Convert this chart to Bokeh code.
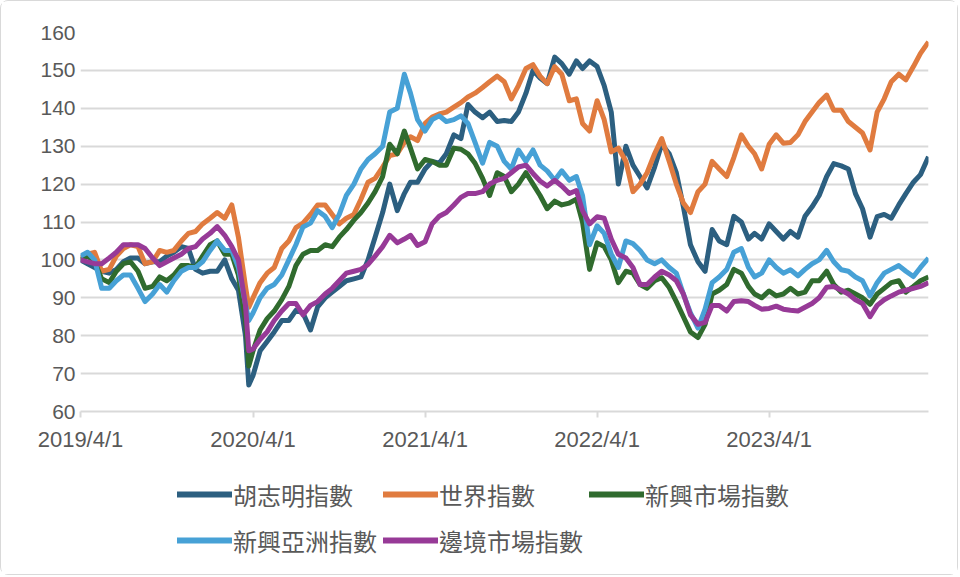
from bokeh.plotting import figure
from bokeh.layouts import column
from bokeh.models import Legend, LegendItem, FixedTicker, Range1d
from bokeh.embed import file_html
from bokeh.resources import INLINE
import pandas as pd

dates = [
    "2019-04-01", "2019-04-16", "2019-05-01", "2019-05-16", "2019-06-01", "2019-06-16",
    "2019-07-01", "2019-07-16", "2019-08-01", "2019-08-16", "2019-09-01", "2019-09-16",
    "2019-10-01", "2019-10-16", "2019-11-01", "2019-11-16", "2019-12-01", "2019-12-16",
    "2020-01-01", "2020-01-16", "2020-02-01", "2020-02-16", "2020-03-01", "2020-03-16",
    "2020-03-23", "2020-04-01", "2020-04-16", "2020-05-01", "2020-05-16", "2020-06-01",
    "2020-06-16", "2020-07-01", "2020-07-16", "2020-08-01", "2020-08-16", "2020-09-01",
    "2020-09-16", "2020-10-01", "2020-10-16", "2020-11-01", "2020-11-16", "2020-12-01",
    "2020-12-16", "2021-01-01", "2021-01-16", "2021-02-01", "2021-02-16", "2021-03-01",
    "2021-03-16", "2021-04-01", "2021-04-16", "2021-05-01", "2021-05-16", "2021-06-01",
    "2021-06-16", "2021-07-01", "2021-07-16", "2021-08-01", "2021-08-16", "2021-09-01",
    "2021-09-16", "2021-10-01", "2021-10-16", "2021-11-01", "2021-11-16", "2021-12-01",
    "2021-12-16", "2022-01-01", "2022-01-16", "2022-02-01", "2022-02-16", "2022-03-01",
    "2022-03-16", "2022-04-01", "2022-04-16", "2022-05-01", "2022-05-16", "2022-06-01",
    "2022-06-16", "2022-07-01", "2022-07-16", "2022-08-01", "2022-08-16", "2022-09-01",
    "2022-09-16", "2022-10-01", "2022-10-16", "2022-11-01", "2022-11-16", "2022-12-01",
    "2022-12-16", "2023-01-01", "2023-01-16", "2023-02-01", "2023-02-16", "2023-03-01",
    "2023-03-16", "2023-04-01", "2023-04-16", "2023-05-01", "2023-05-16", "2023-06-01",
    "2023-06-16", "2023-07-01", "2023-07-16", "2023-08-01", "2023-08-16", "2023-09-01",
    "2023-09-16", "2023-10-01", "2023-10-16", "2023-11-01", "2023-11-16", "2023-12-01",
    "2023-12-16", "2024-01-01", "2024-01-16", "2024-02-01", "2024-02-16", "2024-03-04",
]

hcmc = [
    100, 99, 98, 97, 96.5, 97.5, 99.5, 100.5, 100.5, 99, 99.5, 99.5, 101, 102, 103.5, 103,
    97.5, 96.5, 97, 97, 100, 95, 92, 80, 67, 69.5,
    76, 78.5, 81, 84, 84, 86.7, 86, 81.5, 87.6, 90, 91.5, 93, 94.5, 95, 95.5,
    100, 106, 112.5, 120, 113, 117.5, 120.5, 120.5, 124, 126, 125.5, 128, 133, 132, 141,
    139, 137.5, 139, 136.5,
    136.8, 136.5, 139, 144, 150, 148, 146.5, 153.5, 151.8, 149, 152.5, 150.5, 152.5, 151,
    146, 139, 120, 130, 125, 122,
    119, 124.5, 130.5, 128, 123, 114, 104, 99.5, 97, 108, 105, 104, 111.5, 110, 105.5,
    107, 105.5, 109.5, 107.5,
    105.5, 107.5, 106, 111.5, 114, 117, 122, 125.4, 124.8, 124, 117.5, 113.5, 106, 111.4,
    112, 111, 114.5, 117.5, 120.5, 122.5, 127.2,
]

world = [
    100.5, 101.5, 102, 97, 97.5, 101, 103, 104, 103.5, 99, 99.5, 102.5, 102, 102.5, 105,
    107, 107.5, 109.5, 111, 112.5, 111, 114.5, 106, 93, 87.5, 90,
    94, 96.5, 98, 103, 105, 108.5, 109.7, 112, 114.5, 114.5, 112, 109.5, 111, 112, 116,
    120.5, 121.5, 124.5, 127.5, 128, 131, 132.5, 131.5, 136, 137.7, 138.5, 139, 140.3,
    141.5, 143, 144, 145.5, 147, 148.5,
    147, 142.5, 146, 150.5, 151.5, 148.5, 146.5, 151, 149, 142, 142.5, 136, 134, 142, 137,
    128.5, 129.5, 126, 118, 120,
    123, 128, 132, 126, 120, 115, 112.5, 118, 120, 126, 124, 122, 127, 133, 130, 128, 124,
    130.5, 133,
    130.8, 131, 133, 136.5, 139, 141.5, 143.5, 139.5, 139.5, 136.5, 135, 133.5, 129, 139,
    142.5, 147, 149, 147.5, 151, 154.5, 157.5,
]

emerging = [
    100, 101, 99.5, 95, 94, 97, 99, 99.5, 97, 92.5, 93, 95.5, 94.5, 96, 98.5, 98.5, 98,
    101, 104, 105, 101.5, 101.5, 96, 84, 72, 76,
    81.5, 84.5, 86.5, 89.5, 93, 98.5, 101.5, 102.5, 102.5, 104, 103.5, 106, 108, 110.5,
    112.5,
    115, 118, 122, 130.5, 128, 134, 129.5, 124, 126.5, 126, 125, 125, 129.5, 129.2, 128,
    125.5, 121.5, 117, 123,
    122, 118, 120, 123, 120, 117, 113.5, 115.5, 114.5, 115, 116, 110, 97.5, 104.5, 103.5,
    100, 94, 97, 96.5, 93.5,
    92.5, 94.5, 95.3, 92.7, 89, 85, 81, 79.5, 83, 91, 92, 93.5, 97.5, 96.5, 93, 91, 90,
    91.8, 90.5,
    91, 92.5, 91, 91.5, 94.5, 94.5, 97, 93.5, 91.5, 92, 91, 90, 88.3, 91, 92.5, 94, 94.5,
    91.5, 93, 94.5, 95.5,
]

em_asia = [
    101, 102, 100, 92.5, 92.5, 94.5, 96, 96, 92.5, 89, 91, 93.5, 91.5, 94.5, 97, 98, 98,
    99.5, 102.5, 105, 102.5, 102.5, 98, 88.3, 84, 86,
    90, 92.5, 93.5, 96, 100, 104, 108.7, 109.7, 113, 111.5, 108.5, 112, 117, 120, 124,
    126.5, 128, 130, 139, 140, 149, 144, 137, 134, 137, 138, 136.5, 137, 138, 136, 131,
    125.5, 131, 130,
    126, 124, 129, 126, 129, 125, 123.5, 121, 123.5, 121, 122, 117, 104, 109, 107, 101.6,
    98, 105, 104.3, 102.5,
    100, 99, 100, 98, 96.5, 91, 86, 82, 87, 94, 95.5, 97.5, 102, 103, 98, 95.5, 96.5, 100,
    98,
    96.5, 97.4, 95.8, 97.5, 99, 100, 102.5, 99.5, 97.4, 97, 95.5, 94.5, 90.5, 94, 96.5,
    97.5, 98.5, 97, 95.6, 98, 100.5,
]

frontier = [
    100, 99.5, 99, 99, 100.5, 102, 104, 104, 104, 103, 100.5, 98.5, 99.5, 100.5, 101.5, 103,
    103.5, 105.5, 107, 108.8, 106.5, 103.5, 100, 88, 76, 76.5,
    79, 81, 84, 86.5, 88.5, 88.5, 85.5, 88, 89, 91, 92.5, 94.5, 96.5, 97, 97.5,
    98.8, 101, 103.5, 106.5, 104.5, 105.5, 106.5, 103.8, 104.8, 109.5, 111.5, 112.5, 114.5,
    116.5, 117.5, 117.5, 118, 120, 121,
    121.5, 123, 124.5, 125, 122.8, 120.8, 119.5, 121, 119.5, 117.5, 118.3, 113, 109.5,
    111.4, 111, 105.5, 101.5, 100.5, 98, 93.5,
    93.5, 95.5, 97, 96, 94.5, 91, 85.5, 83, 83.5, 88, 88, 86.5, 89, 89.2, 89, 88, 87, 87.2,
    87.8,
    87, 86.7, 86.5, 87.5, 88.5, 90, 92.8, 93, 92, 91, 89.5, 88.5, 85, 88, 89.5, 90.5, 91.5,
    92, 92.5, 93, 94,
]

series_names = ["胡志明指數", "世界指數", "新興市場指數", "新興亞洲指數", "邊境市場指數"]
series_values = [hcmc, world, emerging, em_asia, frontier]
series_colors = ["#2C5F80", "#E07B3F", "#306B2E", "#47A1D6", "#973A97"]

x_tick_dates = ["2019-04-01", "2020-04-01", "2021-04-01", "2022-04-01", "2023-04-01"]
x_tick_labels = ["2019/4/1", "2020/4/1", "2021/4/1", "2022/4/1", "2023/4/1"]
y_ticks = [60, 70, 80, 90, 100, 110, 120, 130, 140, 150, 160]

x = pd.to_datetime(dates)

grid_color = "#D9D9D9"
text_color = "#595959"

p = figure(
    width=956, height=460, x_axis_type="datetime",
    output_backend="svg", toolbar_location=None,
    x_range=Range1d(x[0], x[-1]), y_range=Range1d(60, 160),
    min_border_left=79, min_border_right=29, min_border_top=31, min_border_bottom=50,
)
p.outline_line_color = None

p.xgrid.visible = False
p.ygrid.ticker = FixedTicker(ticks=y_ticks)
p.ygrid.grid_line_color = grid_color
p.ygrid.grid_line_width = 2

tick_ms = [pd.Timestamp(d).value / 1e6 for d in x_tick_dates]
p.xaxis.ticker = FixedTicker(ticks=tick_ms)
p.xaxis.major_label_overrides = {t: lab for t, lab in zip(tick_ms, x_tick_labels)}
p.xaxis.axis_line_color = grid_color
p.xaxis.axis_line_width = 2
p.xaxis.major_tick_line_color = grid_color
p.xaxis.major_tick_line_width = 2
p.xaxis.major_tick_out = 6
p.xaxis.major_tick_in = 0
p.xaxis.minor_tick_line_color = None
p.xaxis.major_label_standoff = 9
p.xaxis.major_label_text_font = "Liberation Sans"
p.xaxis.major_label_text_font_size = "22px"
p.xaxis.major_label_text_color = text_color

p.yaxis.ticker = FixedTicker(ticks=y_ticks)
p.yaxis.axis_line_color = None
p.yaxis.major_tick_line_color = None
p.yaxis.major_tick_out = 0
p.yaxis.major_tick_in = 0
p.yaxis.minor_tick_line_color = None
p.yaxis.major_label_standoff = 5
p.yaxis.major_label_text_font = "Liberation Sans"
p.yaxis.major_label_text_font_size = "21px"
p.yaxis.major_label_text_color = text_color

for vals, col in zip(series_values, series_colors):
    p.line(x, vals, line_width=5, line_color=col, line_join="round")

# legend panel below the chart (its frame is aligned with the chart's frame)
p2 = figure(
    width=956, height=113, output_backend="svg", toolbar_location=None,
    x_range=Range1d(0, 1), y_range=Range1d(0, 1),
    x_axis_location=None, y_axis_location=None,
    min_border_left=0, min_border_right=0, min_border_top=0, min_border_bottom=0,
)
p2.outline_line_color = None
p2.grid.visible = False
items = []
for name, vals, col in zip(series_names, series_values, series_colors):
    # same series, far outside this panel's ranges: only the legend swatch shows
    r = p2.line(x, vals, line_width=6, line_color=col, line_cap="round")
    items.append(LegendItem(label=name, renderers=[r]))

legend = Legend(
    items=items, location=(97, 11), orientation="horizontal", ncols=3,
    glyph_width=55, glyph_height=20, label_width=150, label_height=46,
    label_standoff=1, spacing=0, padding=0, margin=0,
    border_line_color=None, background_fill_alpha=0,
    label_text_font="Noto Sans CJK TC", label_text_font_size="24px",
    label_text_color=text_color,
)
p2.add_layout(legend)

layout = column(p, p2, spacing=0)
layout.styles = {"border": "1px solid #D9D9D9", "border-radius": "8px"}

open("out.html", "w").write(file_html(layout, INLINE))
